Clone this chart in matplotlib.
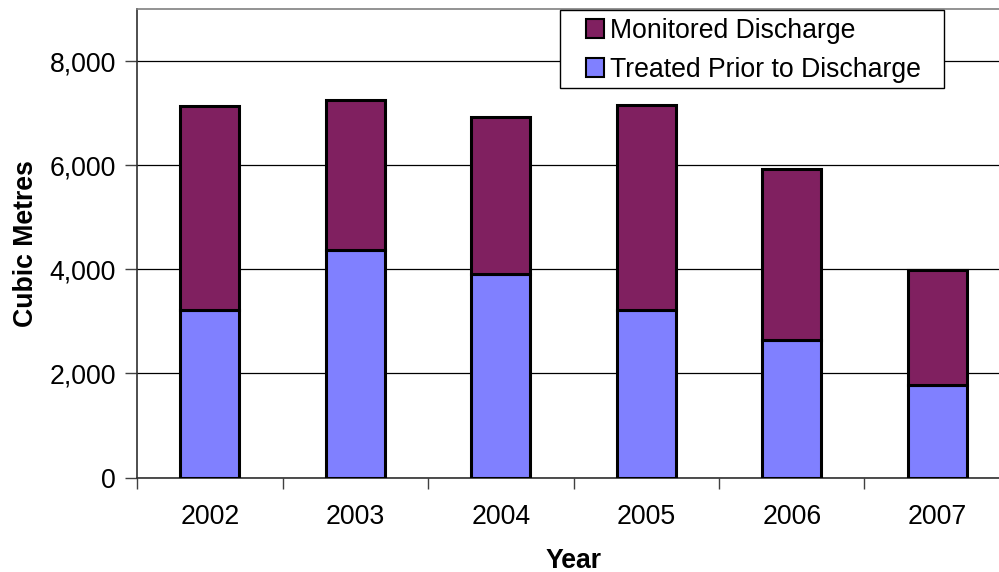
import matplotlib
matplotlib.use("Agg")
import matplotlib.pyplot as plt
import numpy as np
from matplotlib.ticker import FuncFormatter, FixedLocator
from matplotlib.patches import Rectangle

years = ["2002", "2003", "2004", "2005", "2006", "2007"]
treated = [3226, 4378, 3904, 3212, 2650, 1772]
total = [7135, 7245, 6924, 7149, 5933, 3994]
monitored = [t - a for t, a in zip(total, treated)]

plt.rcParams['font.family'] = ['Liberation Sans', 'DejaVu Sans']
FS = 19.2

fig = plt.figure(figsize=(9.99, 5.72), dpi=100)
ax = fig.add_axes([137/999, 1-477.5/572, (1010-137)/999, (477.5-9)/572])

x = np.arange(len(years))
w = 0.405
b1 = ax.bar(x, treated, w, color="#8080FF", edgecolor="black", linewidth=2.2, zorder=3,
            label="Treated Prior to Discharge")
b2 = ax.bar(x, monitored, w, bottom=treated, color="#802060", edgecolor="black", linewidth=2.2,
            zorder=3, label="Monitored Discharge")

ax.set_xlim(-0.5, len(years) - 0.5)
ax.set_ylim(0, 9000)
ax.set_yticks([0, 2000, 4000, 6000, 8000])
ax.yaxis.set_major_formatter(FuncFormatter(lambda v, p: f"{int(v):,}"))
ax.yaxis.grid(True, color="black", linewidth=0.9, zorder=0)
ax.set_axisbelow(True)

ax.set_xticks(x)
ax.set_xticklabels(years)
ax.tick_params(axis='x', which='major', length=0, pad=19, labelsize=FS)
ax.xaxis.set_minor_locator(FixedLocator(np.arange(-0.5, len(years), 1.0)))
ax.tick_params(axis='x', which='minor', length=8, width=1, color="#404040")
ax.tick_params(axis='y', length=9, width=1, color="#404040", pad=6, labelsize=FS)

for s in ["left", "bottom"]:
    ax.spines[s].set_color("#303030")
    ax.spines[s].set_linewidth(1.2)
ax.spines["top"].set_color("#808080")
ax.spines["top"].set_linewidth(1.2)
ax.spines["right"].set_visible(False)

ax.set_ylabel("Cubic Metres", fontsize=FS, fontweight="bold", labelpad=7.5)
ax.set_xlabel("Year", fontsize=FS, fontweight="bold", labelpad=13)

# legend frame drawn as a figure-level rectangle
fig.patches.append(Rectangle((560/999, 1-88/572), (944-560)/999, 78/572,
                             transform=fig.transFigure, facecolor="white",
                             edgecolor="black", linewidth=1.0, zorder=5))
leg = fig.legend(handles=[b2, b1], labels=["Monitored Discharge", "Treated Prior to Discharge"],
                 loc="upper left", bbox_to_anchor=(586/999, 1-18/572), bbox_transform=fig.transFigure,
                 fontsize=FS, frameon=False,
                 handlelength=0.68, handleheight=0.68, handletextpad=0.22,
                 borderpad=0, labelspacing=0.48, borderaxespad=0)
leg.set_zorder(6)
for h in leg.legend_handles:
    h.set_linewidth(1.5)

fig.savefig("out.png", dpi=100)
